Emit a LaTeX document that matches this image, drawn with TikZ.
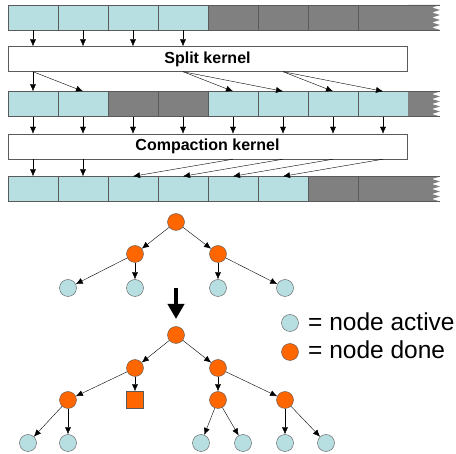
\documentclass[tikz,border=0pt]{standalone}
\usepackage{fontspec}
\setmainfont{Liberation Sans}
\usetikzlibrary{calc,shapes,positioning}
\usetikzlibrary{arrows.meta}
\definecolor{cellblue}{RGB}{183,222,225}
\definecolor{cellgray}{RGB}{128,128,128}
\definecolor{doneorange}{RGB}{255,102,0}
\definecolor{edgegray}{RGB}{90,90,90}
% torn end of an array row, #1 = top of the row
\newcommand{\tornend}[1]{
  \fill[cellgray] (408,#1) -- ++(32,0) -- ++(-8,2.5) -- ++(8,2.5) -- ++(-8,2.5) -- ++(8,2.5)
    -- ++(-8,2.5) -- ++(8,2.5) -- ++(-8,2.5) -- ++(8,2.5) -- ++(-8,2.5) -- ++(8,2.5) -- (408,#1+25) -- cycle;
  \draw[edgegray] (408,#1) -- ++(32,0);
  \draw[edgegray] (408,#1+25) -- ++(32,0);
}

\begin{document}
\begin{tikzpicture}[x=1pt, y=-1pt, >={Latex[length=7pt,width=6pt]}]
    \tikzstyle{acell} = [draw=edgegray, fill=cellblue, rectangle, minimum width=50pt, minimum height=25pt, inner sep=0pt]
    \tikzstyle{dcell} = [draw=edgegray, fill=cellgray, rectangle, minimum width=50pt, minimum height=25pt, inner sep=0pt]
    \tikzstyle{knode} = [draw=edgegray, fill=white, rectangle, minimum width=399pt, minimum height=25pt, inner sep=0pt, font=\fontsize{16}{18}\selectfont\bfseries]
    \tikzstyle{anode} = [draw=edgegray, fill=cellblue, circle, minimum size=17pt, inner sep=0pt]
    \tikzstyle{fnode} = [draw=edgegray, fill=doneorange, circle, minimum size=17pt, inner sep=0pt]
    \tikzstyle{snode} = [draw=edgegray, fill=doneorange, rectangle, minimum size=17pt, inner sep=0pt]
    \useasboundingbox (0,0) rectangle (456,454);

    % array before split
    \node[acell] (a1) at (33,17.5) {};
    \node[acell] (a2) at (83,17.5) {};
    \node[acell] (a3) at (133,17.5) {};
    \node[acell] (a4) at (183,17.5) {};
    \node[dcell] (a5) at (233,17.5) {};
    \node[dcell] (a6) at (283,17.5) {};
    \node[dcell] (a7) at (333,17.5) {};
    \node[dcell] (a8) at (383,17.5) {};
    \tornend{5}

    \node[knode] (split) at (207.5,59) {Split kernel};

    % array after split
    \node[acell] (b1) at (33,104) {};
    \node[acell] (b2) at (83,104) {};
    \node[dcell] (b3) at (133,104) {};
    \node[dcell] (b4) at (183,104) {};
    \node[acell] (b5) at (233,104) {};
    \node[acell] (b6) at (283,104) {};
    \node[acell] (b7) at (333,104) {};
    \node[acell] (b8) at (383,104) {};
    \tornend{91.5}

    \node[knode] (compact) at (207.5,146.5) {Compaction kernel};

    % array after compaction
    \node[acell] (c1) at (33,189) {};
    \node[acell] (c2) at (83,189) {};
    \node[acell] (c3) at (133,189) {};
    \node[acell] (c4) at (183,189) {};
    \node[acell] (c5) at (233,189) {};
    \node[acell] (c6) at (283,189) {};
    \node[dcell] (c7) at (333,189) {};
    \node[dcell] (c8) at (383,189) {};
    \tornend{176.5}

    \draw[->] (a1.south) -- (a1.south |- split.north);
    \draw[->] (a2.south) -- (a2.south |- split.north);
    \draw[->] (a3.south) -- (a3.south |- split.north);
    \draw[->] (a4.south) -- (a4.south |- split.north);

    \draw[->] (split.south -| b1) -- (b1.north);
    \draw[->] (split.south -| b1) -- (b2.north);
    \draw[->] (split.south -| a4) -- (b5.north);
    \draw[->] (split.south -| a4) -- (b6.north);
    \draw[->] (split.south -| a6) -- (b7.north);
    \draw[->] (split.south -| a6) -- (b8.north);

    \draw[->] (b1.south) -- (b1.south |- compact.north);
    \draw[->] (b2.south) -- (b2.south |- compact.north);
    \draw[->] (b3.south) -- (b3.south |- compact.north);
    \draw[->] (b4.south) -- (b4.south |- compact.north);
    \draw[->] (b5.south) -- (b5.south |- compact.north);
    \draw[->] (b6.south) -- (b6.south |- compact.north);
    \draw[->] (b7.south) -- (b7.south |- compact.north);
    \draw[->] (b8.south) -- (b8.south |- compact.north);

    \draw[->] (compact.south -| c1) -- (c1.north);
    \draw[->] (compact.south -| c2) -- (c2.north);
    \draw[->] (compact.south -| b5) -- (c3.north);
    \draw[->] (compact.south -| b6) -- (c4.north);
    \draw[->] (compact.south -| b7) -- (c5.north);
    \draw[->] (compact.south -| b8) -- (c6.north);

    % tree before
    \node[fnode] (p0) at (176,222) {};
    \node[fnode] (p1) at (135,254) {};
    \node[fnode] (p2) at (218,254) {};
    \node[anode] (p3) at (68,288) {};
    \node[anode] (p4) at (135,288) {};
    \node[anode] (p5) at (218,288) {};
    \node[anode] (p6) at (285,288) {};

    \draw[->] (p0) -- (p1);
    \draw[->] (p0) -- (p2);
    \draw[->] (p1) -- (p3);
    \draw[->] (p1) -- (p4);
    \draw[->] (p2) -- (p5);
    \draw[->] (p2) -- (p6);

    \coordinate (from) at (176,288);
    \coordinate (to) at (176,319);
    \draw[line width=4pt, -{Triangle[length=15pt,width=16pt]}] (from) -- (to);

    % tree after
    \node[fnode] (q0) at (176,335) {};
    \node[fnode] (q1) at (135,368) {};
    \node[fnode] (q2) at (218,368) {};
    \node[fnode] (q3) at (68,400) {};
    \node[snode] (q4) at (135,400) {};
    \node[fnode] (q5) at (218,400) {};
    \node[fnode] (q6) at (285,400) {};
    \node[anode] (q7) at (28,443) {};
    \node[anode] (q8) at (68,443) {};
    \node[anode] (q9) at (201,443) {};
    \node[anode] (q10) at (243,443) {};
    \node[anode] (q11) at (285,443) {};
    \node[anode] (q12) at (326,443) {};

    \draw[->] (q0) -- (q1);
    \draw[->] (q0) -- (q2);
    \draw[->] (q1) -- (q3);
    \draw[->] (q1) -- (q4);
    \draw[->] (q2) -- (q5);
    \draw[->] (q2) -- (q6);
    \draw[->] (q3) -- (q7);
    \draw[->] (q3) -- (q8);
    \draw[->] (q5) -- (q9);
    \draw[->] (q5) -- (q10);
    \draw[->] (q6) -- (q11);
    \draw[->] (q6) -- (q12);

    % legend
    \node[anode] (la) at (290,323) {};
    \node[fnode] (lf) at (290,352) {};
    \node[anchor=base west, inner sep=0pt, font=\fontsize{24.5}{28}\selectfont] (ta) at (308,331) {= node active};
    \node[anchor=base west, inner sep=0pt, font=\fontsize{24.5}{28}\selectfont] (tf) at (308,359) {= node done};
\end{tikzpicture}
\end{document}
